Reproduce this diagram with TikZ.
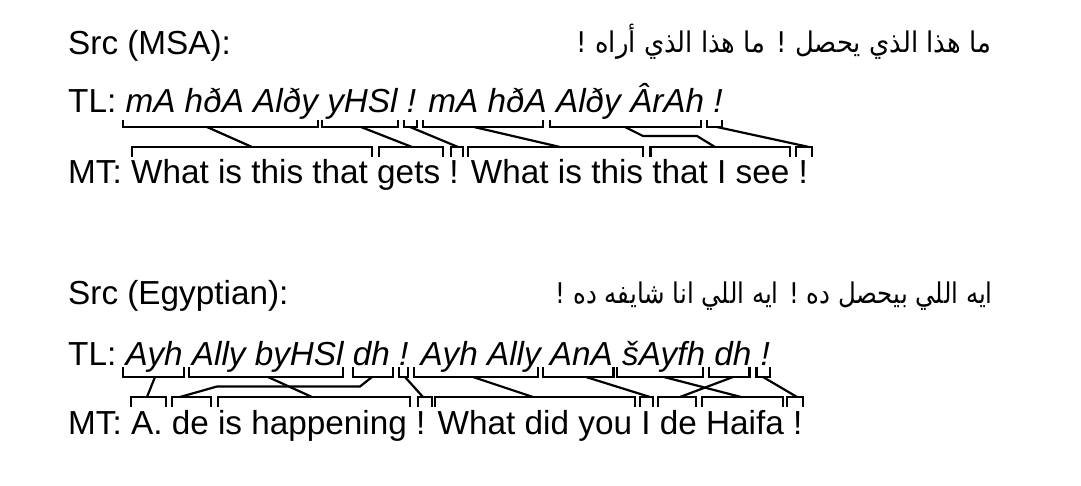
\documentclass[tikz,border=0pt]{standalone}
\usepackage{graphicx}
\usepackage{fontspec}
\setmainfont{Liberation Sans}
\newfontfamily\arabicfont[Script=Arabic]{DejaVu Sans}
\TeXXeTstate=1
\tikzset{
  txt/.style={anchor=base west, inner sep=0pt, font=\fontsize{33.3}{40}\selectfont},
  artxt/.style={anchor=base east, inner sep=0pt},
  brk/.style={line width=2.3pt, line cap=butt, line join=miter},
  lnk/.style={line width=2.2pt, line join=round},
}
\newcommand\artext[2]{\resizebox{#1}{\height}{\arabicfont\fontsize{28.5}{34}\selectfont #2}}
\newcommand\ubrk[4]{\draw[brk] (#1,#3-#4) -- (#1,#3) -- (#2,#3) -- (#2,#3-#4);}
\newcommand\lbrk[4]{\draw[brk] (#1,#3+#4) -- (#1,#3) -- (#2,#3) -- (#2,#3+#4);}
\begin{document}
\begin{tikzpicture}[x=1pt,y=-1pt]
\useasboundingbox (0,0) rectangle (1081,486);
% ---------- MSA ----------
\node[txt] (src1) at (68,55) {Src (MSA):};
\node[artxt] (src1ar) at (991,53) {\artext{414pt}{\beginR ما هذا الذي يحصل ! ما هذا الذي أراه !\endR}};
\node[txt] (tl1) at (68,113) {TL: \textit{mA hðA Alðy yHSl ! mA hðA Alðy ÂrAh !}};
\node[txt] (mt1) at (68,184) {MT: What is this that gets ! What is this that I see !};
% upper brackets
\ubrk{122.7}{318.3}{127}{7}
\ubrk{321.7}{398.3}{127}{7}
\ubrk{404}{417.3}{127}{7}
\ubrk{423.3}{543.3}{127}{7}
\ubrk{550}{700.7}{127}{7}
\ubrk{707.3}{721.7}{127}{7}
% lower brackets
\lbrk{131.7}{371.7}{147}{10}
\lbrk{379.3}{443.3}{147}{10}
\lbrk{451}{463}{147}{10}
\lbrk{468}{643}{147}{10}
\lbrk{650.5}{790}{147}{10}
\lbrk{796}{811.7}{147}{10}
% link points
\coordinate (a1) at (207,127); \coordinate (b1) at (252,147);
\coordinate (a2) at (361,127); \coordinate (b2) at (412,147);
\coordinate (a3) at (410,127); \coordinate (b3) at (458,147);
\coordinate (a4) at (474,127); \coordinate (b4) at (560,147);
\coordinate (a5) at (625,127); \coordinate (b5) at (715,147);
\coordinate (a6) at (717,127); \coordinate (b6) at (809,147);
\draw[lnk] (a1) -- (b1);
\draw[lnk] (a2) -- (b2);
\draw[lnk] (a3) -- (b3);
\draw[lnk] (a4) -- (b4);
\draw[lnk] (a5) -- (643,136) -- (697,136) -- (b5);
\draw[lnk] (a6) -- (b6);
% ---------- Egyptian ----------
\node[txt] (src2) at (68,305) {Src (Egyptian):};
\node[artxt] (src2ar) at (993,303) {\artext{437pt}{\beginR ايه اللي بيحصل ده ! ايه اللي انا شايفه ده !\endR}};
\node[txt] (tl2) at (68,365) {TL: \textit{Ayh Ally byHSl dh ! Ayh Ally AnA šAyfh dh !}};
\node[txt] (mt2) at (68,434) {MT: A. de is happening ! What did you I de Haifa !};
% upper brackets
\ubrk{123.3}{184}{377}{10}
\ubrk{189.3}{343.3}{377}{10}
\ubrk{352.7}{392.7}{377}{10}
\ubrk{399.3}{407.7}{377}{10}
\ubrk{414}{538.3}{377}{10}
\ubrk{543.3}{613.5}{377}{10}
\ubrk{617}{703}{377}{10}
\ubrk{709.3}{749.5}{377}{10}
\ubrk{756.5}{770}{377}{10}
% lower brackets
\lbrk{130.7}{166}{397}{10}
\lbrk{171.7}{211}{397}{10}
\lbrk{218.3}{410}{397}{10}
\lbrk{418.3}{431.7}{397}{10}
\lbrk{435}{635}{397}{10}
\lbrk{640}{653}{397}{10}
\lbrk{657.7}{696}{397}{10}
\lbrk{701.7}{782.8}{397}{10}
\lbrk{787.2}{803.3}{397}{10}
% link points
\coordinate (c1) at (155,377); \coordinate (d1) at (147,397);
\coordinate (c2) at (268,377); \coordinate (d2) at (312,397);
\coordinate (c3) at (372,377); \coordinate (d3) at (180,397);
\coordinate (c4) at (405,377); \coordinate (d4) at (423,397);
\coordinate (c5) at (473,377); \coordinate (d5) at (533,397);
\coordinate (c6) at (586,377); \coordinate (d6) at (650,397);
\coordinate (c7) at (664,377); \coordinate (d7) at (741,397);
\coordinate (c8) at (733,377); \coordinate (d8) at (680,397);
\coordinate (c9) at (763,377); \coordinate (d9) at (797,397);
\draw[lnk] (c1) -- (d1);
\draw[lnk] (c2) -- (d2);
\draw[lnk] (c3) -- (360,386.5) -- (217,386.5) -- (d3);
\draw[lnk] (c4) -- (d4);
\draw[lnk] (c5) -- (d5);
\draw[lnk] (c6) -- (d6);
\draw[lnk] (c7) -- (d7);
\draw[lnk] (c8) -- (d8);
\draw[lnk] (c9) -- (d9);
\end{tikzpicture}
\end{document}
